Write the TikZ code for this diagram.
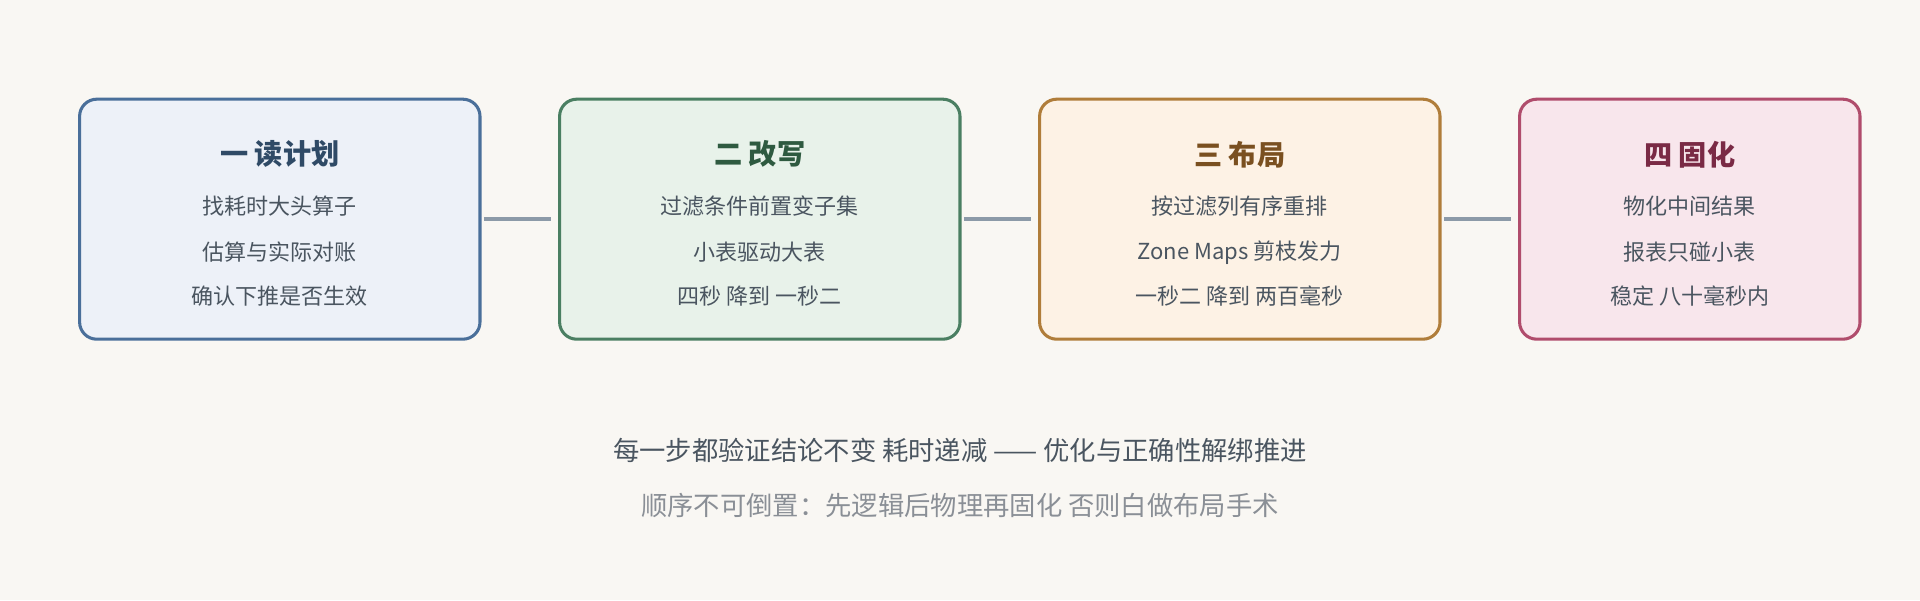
\documentclass[tikz,border=0pt]{standalone}
\usepackage{fontspec}
\setmainfont{Noto Sans CJK SC}
\definecolor{bg}{HTML}{F9F7F3}
\definecolor{fa}{HTML}{EDF1F8}\definecolor{da}{HTML}{4A6F9A}\definecolor{ta}{HTML}{2F4A66}
\definecolor{fb}{HTML}{E8F2EA}\definecolor{db}{HTML}{4A7F62}\definecolor{tb}{HTML}{2E5A40}
\definecolor{fc}{HTML}{FDF2E5}\definecolor{dc}{HTML}{B07D3A}\definecolor{tc}{HTML}{7A5020}
\definecolor{fd}{HTML}{F8E6EC}\definecolor{dd}{HTML}{B04C6C}\definecolor{td}{HTML}{7A2A45}
\definecolor{body}{HTML}{4A5560}\definecolor{conn}{HTML}{8C9AA8}\definecolor{note}{HTML}{8A8F96}
\begin{document}
\begin{tikzpicture}[x=1pt,y=-1pt,
 box/.style={draw,line width=2.5pt,rounded corners=14pt,minimum height=196pt,inner sep=0pt},
 ttl/.style={font=\fontsize{23}{26}\selectfont\bfseries},
 txt/.style={font=\fontsize{18}{21}\selectfont,text=body},
 con/.style={draw=conn,line width=3pt}]
\fill[bg] (0,0) rectangle (1568,490);
\useasboundingbox (0,0) rectangle (1568,490);
\node[box,fill=fa,draw=da,minimum width=327pt] (b1) at (228.5,179) {};
\node[box,fill=fb,draw=db,minimum width=327pt] (b2) at (620.5,179) {};
\node[box,fill=fc,draw=dc,minimum width=327pt] (b3) at (1012.5,179) {};
\node[box,fill=fd,draw=dd,minimum width=278pt] (b4) at (1380,179) {};
\foreach \b/\c/\t/\la/\lb/\lc in {b1/ta/一 读计划/找耗时大头算子/估算与实际对账/确认下推是否生效,
 b2/tb/二 改写/过滤条件前置变子集/小表驱动大表/四秒 降到 一秒二,
 b3/tc/三 布局/按过滤列有序重排/Zone Maps 剪枝发力/一秒二 降到 两百毫秒,
 b4/td/四 固化/物化中间结果/报表只碰小表/稳定 八十毫秒内}{
 \node[ttl,text=\c] (\b t) at ([yshift=53pt]\b.center) {\t};
 \node[txt] (\b 1) at ([yshift=11pt]\b.center) {\la};
 \node[txt] (\b 2) at ([yshift=-27pt]\b.center) {\lb};
 \node[txt] (\b 3) at ([yshift=-63pt]\b.center) {\lc};
}
\draw[con] ([xshift=2pt]b1.east) -- ([xshift=-6pt]b2.west);
\draw[con] ([xshift=2pt]b2.east) -- ([xshift=-6pt]b3.west);
\draw[con] ([xshift=2pt]b3.east) -- ([xshift=-6pt]b4.west);
\node[font=\fontsize{21.5}{25}\selectfont,text=body] (n1) at (784,368) {每一步都验证结论不变 耗时递减 —— 优化与正确性解绑推进};
\node[font=\fontsize{21.5}{25}\selectfont,text=note] (n2) at (784,413) {顺序不可倒置：先逻辑后物理再固化 否则白做布局手术};
\end{tikzpicture}
\end{document}
